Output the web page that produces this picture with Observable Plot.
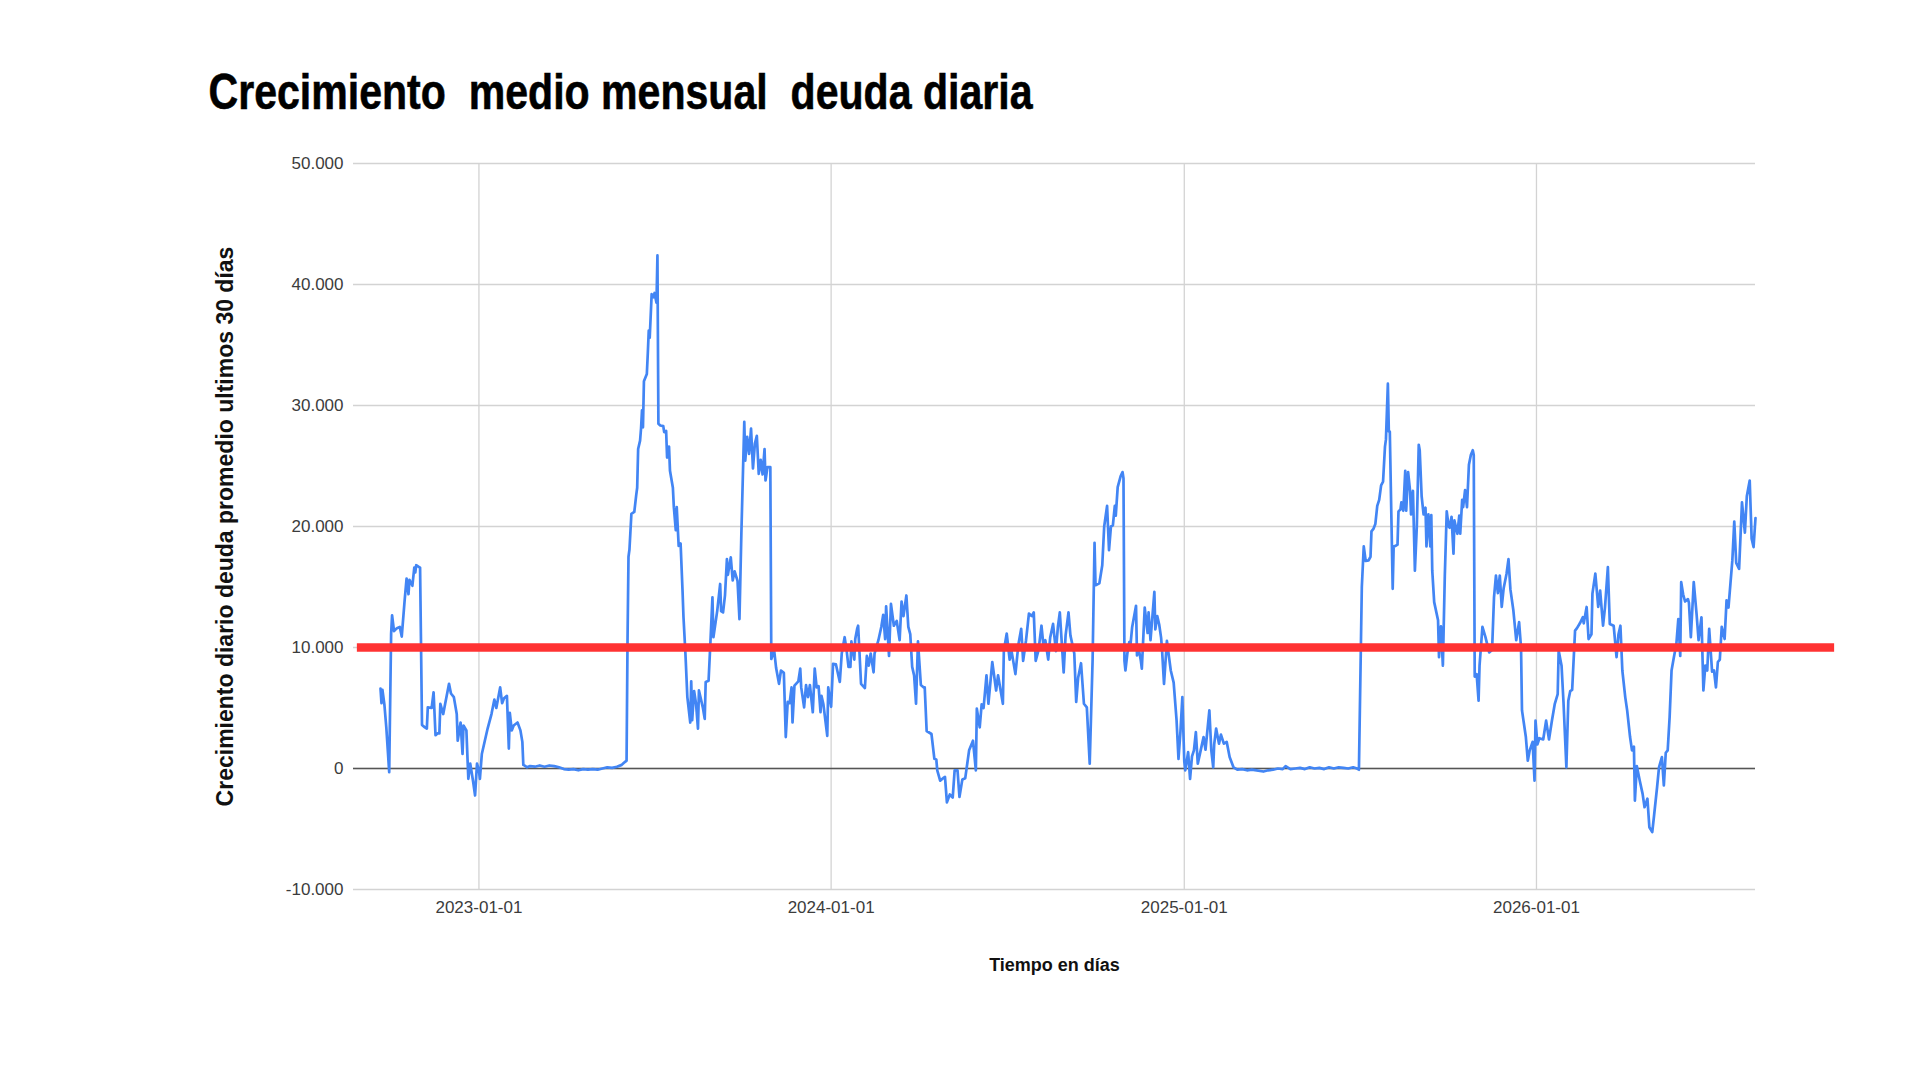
<!DOCTYPE html>
<html>
<head>
<meta charset="utf-8">
<script src="https://cdn.jsdelivr.net/npm/d3@7"></script>
<script src="https://cdn.jsdelivr.net/npm/@observablehq/plot@0.6"></script>
<style>
  html, body { margin: 0; padding: 0; background: #fff; }
  #chart { width: 1920px; height: 1080px; }
</style>
</head>
<body>
<div id="chart"></div>
<script>
const titleText = "Crecimiento  medio mensual  deuda diaria";
const yLabelText = "Crecimiento diario deuda promedio ultimos 30 días";
const xLabelText = "Tiempo en días";

const startDate = "2022-09-21";          // first observation
const domainDays = [-28, 1425];          // x-axis extent, days from startDate
const thresholdDays = [-24, 1507];       // red reference line extent
const threshold = 10000;

const yTicks = [-10000, 0, 10000, 20000, 30000, 40000, 50000];
const xTickLabels = ["2023-01-01", "2024-01-01", "2025-01-01", "2026-01-01"];

const dayIndex = [0,1,2,4,6,9,11,12,14,17,20,22,25,27,29,30,33,35,36,37,40,41,43,46,48,49,53,55,57,59,61,62,65,67,71,73,76,79,80,83,85,86,89,91,93,96,98,100,102,103,105,108,111,115,118,120,124,126,128,131,133,134,136,138,142,145,147,148,149,152,
155,160,165,170,175,180,185,190,195,200,205,210,215,220,225,230,235,240,245,250,252,255,
256,257,258,260,263,265,266,267,269,270,271,272,273,276,277,278,279,281,283,284,286,287,288,290,293,294,296,297,299,300,303,304,306,307,309,311,313,314,316,318,321,322,323,325,327,329,330,334,336,337,340,342,344,345,349,352,353,355,357,359,360,363,365,367,370,372,374,377,378,380,382,384,386,388,390,392,394,396,398,399,401,404,405,408,410,413,415,418,420,422,424,426,427,429,433,435,436,439,441,443,445,448,450,452,454,456,457,459,463,464,467,469,472,476,478,481,483,485,487,488,491,492,494,495,497,498,502,504,506,508,511,512,516,519,521,523,524,527,529,532,535,538,540,542,545,547,549,551,553,555,557,560,563,564,566,571,574,576,577,580,583,585,587,590,593,595,598,600,603,606,610,614,617,618,621,623,625,628,630,634,638,640,645,646,649,652,654,658,661,664,666,669,672,675,677,679,682,685,687,689,692,694,697,700,702,704,708,710,713,715,719,721,723,726,729,732,735,738,740,741,745,748,750,753,755,757,759,761,762,764,767,769,770,771,772,774,776,777,779,783,784,786,788,789,792,795,796,798,802,803,805,807,809,810,812,815,819,822,825,827,829,831,833,834,837,839,841,843,845,847,850,853,855,859,861,863,864,866,869,871,874,877,880,884,888,893,898,903,908,915,920,925,930,935,938,943,948,953,958,963,968,973,978,983,988,993,998,1003,1008,1012,1014,1017,1019,1021,1024,1026,1027,1029,1031,1033,1035,1037,1039,1041,1042,1044,1045,1046,1049,1050,1052,1054,1055,1057,1058,1060,1062,1063,1065,1067,1068,1070,1072,1074,1076,1077,1079,1081,1083,1084,1086,1088,1089,1090,1092,1096,1097,1099,1101,1103,1105,1107,1108,1110,1112,1113,1116,1118,1119,1121,1122,1124,1126,1128,1130,1132,1133,1134,1136,1138,1139,1142,1145,1149,1152,1154,1156,1158,1160,1162,1164,1167,1169,1171,1174,1177,1180,1182,1183,1187,1189,1191,1194,1196,1197,1199,1201,1205,1208,1211,1214,1217,1220,1221,1224,1226,1229,1231,1233,1235,1238,1240,1243,1246,1247,1250,1252,1255,1256,1259,1262,1264,1267,1269,1272,1274,1278,1281,1283,1285,1287,1290,1292,1295,1297,1299,1300,1302,1305,1308,1310,1313,1315,1318,1320,1323,1325,1328,1330,1332,1334,1336,1338,1340,1343,1345,1347,1348,1350,1352,1355,1356,1358,1361,1364,1366,1369,1371,1373,1375,1377,1380,1382,1384,1386,1388,1390,1393,1395,1397,1399,1401,1403,1405,1408,1411,1414,1416,1419,1421,1423,1425];

const debtGrowth = [6600,5400,6500,5300,3400,-300,11150,12650,11350,11600,11700,10900,13900,15700,14400,15600,15100,16600,16200,16800,16650,16600,3600,3400,3300,5050,5000,6300,2750,2900,2900,5350,4500,5350,7000,6200,5900,4500,2300,3800,1200,3550,3150,-850,400,-1100,-2230,400,-150,-850,1200,2250,3300,4500,5700,5000,6700,5400,5800,6000,1650,4600,3150,3550,3800,3150,2200,300,250,100,
200,150,250,150,250,200,100,-50,-100,-50,-150,-50,-100,-50,-100,0,100,50,150,300,450,650,
10600,17500,18100,21050,21200,22600,23200,26400,27100,28100,29600,28200,32000,32600,34300,36200,35600,39200,38950,39300,38500,42400,28500,28350,28300,27800,27900,25700,26600,24600,23200,21600,19700,21600,18400,18600,14700,12500,9500,5900,3800,7200,4000,6400,5350,3300,6450,5050,4100,7150,7250,10600,14150,10850,13050,15250,13000,12900,14300,17300,16000,17450,15550,16300,15500,12350,19500,28650,25450,27400,26000,28100,24800,26850,27500,24350,25500,24300,26400,23800,24900,24900,9050,9750,8300,7000,8100,7900,2600,5500,5400,6700,3800,6850,7200,8250,6700,5050,6900,5900,6900,4650,8250,6700,6800,4650,6000,5300,2700,6700,5100,8650,8600,7150,9500,10850,9800,8400,8400,10500,9000,10700,11550,11800,8600,7000,6650,9300,8500,9500,7950,9500,10600,11700,12700,10700,13400,9300,13600,11800,12200,10600,13800,12600,14300,11700,11100,8400,7700,5350,10500,6900,6700,6700,3100,2850,800,750,-150,-1000,-800,-700,-2800,-2150,-2400,-150,-150,-2350,-900,-800,1500,2300,-150,4950,3400,5300,5000,7700,5350,8800,6450,7700,5350,9750,11150,9000,9700,7800,10200,11550,8900,10600,12800,12600,12900,8900,9800,11800,10200,10600,9000,10800,11950,9700,11700,12900,7950,11000,12900,11000,9500,5500,7500,8700,5350,5050,400,9000,18650,15150,15300,16800,20000,21700,18050,20000,20100,21700,20900,23250,24150,24500,24000,8900,8100,9500,10450,10000,11700,13450,9350,9800,8900,8250,13300,11200,12900,10600,14600,11500,12600,11900,10800,9750,7000,10550,8100,7100,4000,800,3000,5900,600,-150,1350,-850,1000,1500,3000,400,1500,2600,1550,4800,1500,100,2000,3300,2050,2800,2050,2200,950,100,-100,-50,-150,-100,-150,-250,-150,-100,0,-50,200,-50,0,50,-50,100,0,50,-50,100,0,100,50,0,100,0,-100,15000,18350,17150,17200,17500,19600,19800,20200,21700,22200,23400,23700,26600,27200,31800,27850,27850,14850,18350,18400,18500,21250,21400,22000,21300,24600,21300,24500,22950,21000,22950,16350,20000,26750,26300,22500,21000,21550,18350,21000,18350,20950,16350,13750,12250,9200,11750,8500,15900,21250,20000,19900,20800,17750,20500,19400,20900,19400,22200,21600,23000,21600,25100,25900,26300,25900,7600,7800,5600,8500,11700,10900,9600,9800,14150,15950,14500,15950,13350,14900,16100,17300,14800,13100,10600,12100,10000,4800,2600,650,1500,2200,-1000,3950,2000,2500,2400,3950,2400,3950,5350,6150,9750,8500,5500,100,5600,6400,6500,11400,11600,12000,12500,12000,13350,10700,11100,14450,16100,13350,14700,11800,13300,16650,11950,11800,9200,11100,11800,8100,5900,4800,2600,1500,1800,-2650,200,-1000,-2100,-3200,-2500,-4850,-5250,-3800,-1550,100,950,-1400,1300,1500,4250,8100,9000,10300,12350,9300,15400,14400,13800,14000,13700,10850,15400,12700,10600,12500,6450,8500,8100,11550,8000,8100,6700,8800,9000,11700,10700,13900,13300,15250,17200,20400,17000,16500,22000,19500,22500,23800,19000,18300,20700];

const start = new Date(startDate + "T00:00:00Z");
const dayToDate = d => d3.utcDay.offset(start, d);
const series = dayIndex.map((d, i) => ({date: dayToDate(d), value: debtGrowth[i]}));
const xTicks = xTickLabels.map(s => new Date(s + "T00:00:00Z"));

const locale = d3.formatLocale({decimal: ",", thousands: ".", grouping: [3], currency: ["", ""], minus: "-"});
const yFmt = locale.format(",d");

const baseFont = "'Liberation Sans', Arial, sans-serif";

const chart = Plot.plot({
  width: 1920,
  height: 1080,
  marginLeft: 353,
  marginRight: 165,
  marginTop: 163,
  marginBottom: 191,
  style: {fontFamily: baseFont, background: "#fff", overflow: "visible"},
  x: {type: "utc", domain: domainDays.map(dayToDate)},
  y: {domain: [yTicks[0], yTicks[yTicks.length - 1]]},
  marks: [
    Plot.gridY(yTicks, {stroke: "#d3d3d3", strokeOpacity: 1, strokeWidth: 1.3}),
    Plot.gridX(xTicks, {stroke: "#d3d3d3", strokeOpacity: 1, strokeWidth: 1.3}),
    Plot.axisY(yTicks, {tickSize: 0, tickPadding: 10, tickFormat: yFmt, fontSize: 17, fill: "#3c3c3c", label: null}),
    Plot.axisX(xTicks, {tickSize: 0, tickPadding: 11, tickFormat: d3.utcFormat("%Y-%m-%d"), fontSize: 17, fill: "#3c3c3c", label: null}),
    Plot.ruleY([0], {stroke: "#555", strokeWidth: 1.5}),
    Plot.lineY(series, {x: "date", y: "value", stroke: "#4285f4", strokeWidth: 2.7, strokeLinejoin: "round"}),
    Plot.ruleY([threshold], {x1: () => dayToDate(thresholdDays[0]), x2: () => dayToDate(thresholdDays[1]), stroke: "#ff3333", strokeWidth: 8.5}),
    Plot.text([titleText], {text: d => d, frameAnchor: "top-left", dx: -145, dy: -55, lineAnchor: "bottom", textAnchor: "start",
      fontSize: 50, fontWeight: "bold", fontFamily: "'Liberation Sans Narrow', 'Liberation Sans', Arial, sans-serif", fill: "#000", className: "chart-title"}),
    Plot.text([yLabelText], {text: d => d, frameAnchor: "left", dx: -128, rotate: -90, lineAnchor: "middle", textAnchor: "middle",
      fontSize: 23, fontWeight: "bold", fill: "#111"}),
    Plot.text([xLabelText], {text: d => d, frameAnchor: "bottom", dy: 76, lineAnchor: "middle", textAnchor: "middle",
      fontSize: 18, fontWeight: "bold", fill: "#111"})
  ]
});
chart.querySelectorAll("text").forEach(t => t.style.whiteSpace = "pre");
// condensed title (Arial Narrow look)
chart.querySelectorAll(".chart-title text").forEach(t => {
  t.setAttribute("textLength", "824");
  t.setAttribute("lengthAdjust", "spacingAndGlyphs");
  t.style.strokeWidth = "0.6px";
  t.style.stroke = "#000";
});
document.getElementById("chart").appendChild(chart);
</script>
</body>
</html>
